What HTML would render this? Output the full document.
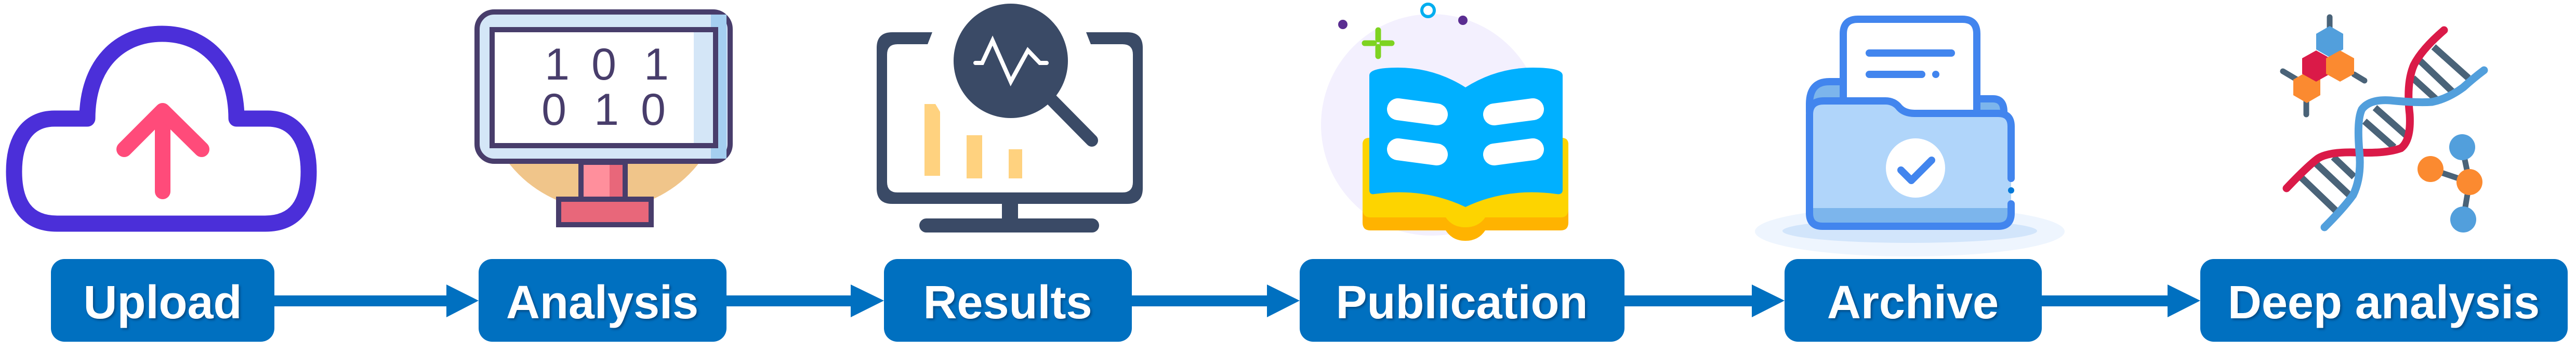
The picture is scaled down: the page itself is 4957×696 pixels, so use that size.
<!DOCTYPE html>
<html><head><meta charset="utf-8"><style>
html,body{margin:0;padding:0;background:#fff;}
svg{display:block;}
.lbl{font-family:"Liberation Sans",Arial,sans-serif;font-weight:bold;font-size:90px;fill:#fff;}
</style></head><body>
<svg width="4957" height="696" viewBox="0 0 4957 696" xmlns="http://www.w3.org/2000/svg">
<defs>
<filter id="ts" x="-5%" y="-5%" width="110%" height="120%"><feDropShadow dx="3" dy="3" stdDeviation="2" flood-color="#003060" flood-opacity="0.6"/></filter>
</defs>

<!-- Upload cloud -->
<path d="M110,430 H510 C570,430 594,390 594,330 C594,270 568,228 515,228 H455 C455,125 395,65 312,65 C229,65 168,125 168,228 H105 C52,228 27,270 27,330 C27,390 50,430 110,430 Z" fill="none" stroke="#4B2FD9" stroke-width="31" stroke-linejoin="round"/>
<g stroke="#FF4B7A" stroke-width="30" stroke-linecap="round" stroke-linejoin="round" fill="none">
<line x1="313" y1="215" x2="313" y2="368"/>
<polyline points="239,287 313,213 388,287"/>
</g>

<!-- Analysis monitor -->
<circle cx="1162" cy="171" r="232" fill="#F0C58A"/>
<rect x="913" y="0" width="500" height="315" fill="#fff"/>
<rect x="918" y="23" width="487" height="287" rx="33" fill="#D4E6F7" stroke="#483D6B" stroke-width="10"/>
<rect x="1368" y="28" width="30" height="277" fill="#A5CFF0"/>
<rect x="947" y="57" width="430" height="223" fill="#fff" stroke="#483D6B" stroke-width="10"/>
<rect x="1335" y="62" width="37" height="213" fill="#D4E6F7"/>
<g font-family="'Liberation Sans',Arial,sans-serif" font-size="86" fill="#483D6B" text-anchor="middle">
<text x="1072" y="153">1</text><text x="1162" y="153">0</text><text x="1263" y="153">1</text>
<text x="1066" y="240">0</text><text x="1167" y="240">1</text><text x="1257" y="240">0</text>
</g>
<rect x="1118" y="315" width="85" height="70" fill="#FF8F9C"/>
<rect x="1173" y="315" width="30" height="70" fill="#E8677A"/>
<rect x="1118" y="312" width="85" height="73" fill="none" stroke="#483D6B" stroke-width="10"/>
<rect x="1075" y="383" width="178" height="49" fill="#E8677A" stroke="#483D6B" stroke-width="10"/>

<!-- Results monitor -->
<g fill="#3A4A66">
<path d="M1717,62 H1794 L1785,85 H1727 Q1707,85 1707,105 V350 Q1707,370 1727,370 H2160 Q2180,370 2180,350 V105 Q2180,85 2160,85 H2099 L2090,62 H2169 Q2199,62 2199,92 V362 Q2199,392 2169,392 H1717 Q1687,392 1687,362 V92 Q1687,62 1717,62 Z"/>
<rect x="1928" y="390" width="31" height="32"/>
<rect x="1769" y="420" width="346" height="27" rx="13.5"/>
<circle cx="1945" cy="117" r="110"/>
</g>
<line x1="2025" y1="193" x2="2101" y2="270" stroke="#3A4A66" stroke-width="24" stroke-linecap="round"/>
<polyline points="1877,121 1890,121 1910,78 1945,157 1978,97 2001,121 2014,121" fill="none" stroke="#fff" stroke-width="8" stroke-linejoin="miter" stroke-linecap="round"/>
<path d="M1779,200 H1800 L1809,215 V338 H1779 Z" fill="#FFD27F"/>
<rect x="1860" y="260" width="30" height="83" fill="#FFD27F"/>
<rect x="1941" y="287" width="26" height="56" fill="#FFD27F"/>

<!-- Publication book -->
<circle cx="2755" cy="240" r="213" fill="#F3F0FE"/>
<circle cx="2584" cy="47" r="9" fill="#5A2D91"/>
<circle cx="2815" cy="39" r="9" fill="#5A2D91"/>
<circle cx="2748" cy="20" r="12" fill="none" stroke="#00AEEF" stroke-width="6"/>
<g stroke="#7ED321" stroke-width="11" stroke-linecap="round">
<line x1="2652" y1="58" x2="2652" y2="76"/><line x1="2652" y1="90" x2="2652" y2="108"/>
<line x1="2626" y1="83" x2="2644" y2="83"/><line x1="2660" y1="83" x2="2678" y2="83"/>
</g>
<path d="M2622,278 Q2622,265 2635,265 H3005 Q3018,265 3018,278 V428 Q3018,443 3003,443 H2858 Q2845,463 2820,463 Q2795,463 2782,443 H2637 Q2622,443 2622,428 Z" fill="#FFB300"/>
<path d="M2622,278 Q2622,265 2635,265 H3005 Q3018,265 3018,278 V402 Q3018,418 3003,418 H2858 Q2845,437 2820,437 Q2795,437 2782,418 H2637 Q2622,418 2622,402 Z" fill="#FDD400"/>
<path d="M2635,145 Q2635,130 2690,130 Q2760,130 2820,168 Q2880,130 2950,130 Q3007,130 3007,145 V365 Q3007,375 2995,373 Q2900,360 2820,398 Q2740,360 2645,373 Q2635,375 2635,365 Z" fill="#00B0FF"/>
<g stroke="#fff" stroke-width="42" stroke-linecap="round">
<line x1="2157" y1="0" x2="2157" y2="0"/>
<line x1="2690" y1="210" x2="2765" y2="220"/>
<line x1="2690" y1="287" x2="2765" y2="297"/>
<line x1="2875" y1="220" x2="2950" y2="210"/>
<line x1="2875" y1="297" x2="2950" y2="287"/>
</g>

<!-- Archive folder -->
<ellipse cx="3675" cy="445" rx="298" ry="48" fill="#EEF5FE"/>
<ellipse cx="3675" cy="444" rx="245" ry="23" fill="#D2E5FB"/>
<path d="M3482,200 Q3482,157 3520,157 H3547 V215 H3482 Z" fill="#7CB5EC" stroke="#4285EE" stroke-width="14" stroke-linejoin="round"/>
<path d="M3804,190 H3835 Q3856,190 3856,215 V230 H3804 Z" fill="#7CB5EC" stroke="#4285EE" stroke-width="14" stroke-linejoin="round"/>
<path d="M3547,225 V65 Q3547,37 3575,37 H3776 Q3804,37 3804,65 V225 Z" fill="#fff" stroke="#4285EE" stroke-width="14" stroke-linejoin="round"/>
<line x1="3597" y1="102" x2="3755" y2="102" stroke="#4285EE" stroke-width="14" stroke-linecap="round"/>
<line x1="3597" y1="143" x2="3698" y2="143" stroke="#4285EE" stroke-width="14" stroke-linecap="round"/>
<circle cx="3725" cy="143" r="7" fill="#4285EE"/>
<path d="M3482,220 Q3482,194 3510,194 H3628 Q3645,194 3655,207 Q3665,218 3685,218 H3845 Q3870,218 3870,243 V410 Q3870,435 3845,435 H3507 Q3482,435 3482,410 Z" fill="#B0D5FA"/>
<path d="M3482,400 H3870 V410 Q3870,435 3845,435 H3507 Q3482,435 3482,410 Z" fill="#7CB5EC"/>
<path d="M3870,343 V243 Q3870,218 3845,218 H3685 Q3665,218 3655,207 Q3645,194 3628,194 H3510 Q3482,194 3482,220 V410 Q3482,435 3507,435 H3845 Q3870,435 3870,410 V392" fill="none" stroke="#4285EE" stroke-width="14" stroke-linecap="round"/>
<circle cx="3870" cy="366" r="6" fill="#0078D7"/>
<circle cx="3686" cy="323" r="57" fill="#fff"/>
<polyline points="3658,327 3678,347 3717,308" fill="none" stroke="#4285EE" stroke-width="14" stroke-linecap="round" stroke-linejoin="round"/>

<!-- DNA -->
<g stroke="#4A6378" stroke-width="13" stroke-linecap="butt">
<line x1="4427" y1="340" x2="4497" y2="407"/>
<line x1="4452" y1="310" x2="4523" y2="377"/>
<line x1="4490" y1="302" x2="4530" y2="340"/>
<line x1="4550" y1="233" x2="4607" y2="283"/>
<line x1="4570" y1="207" x2="4630" y2="260"/>
<line x1="4643" y1="150" x2="4687" y2="190"/>
<line x1="4657" y1="117" x2="4720" y2="177"/>
<line x1="4683" y1="90" x2="4750" y2="150"/>
</g>
<path d="M4400,362 Q4440,320 4460,305 Q4480,292 4530,293 Q4590,296 4620,285 Q4640,270 4637,220 Q4630,160 4645,125 Q4660,95 4703,58" fill="none" stroke="#DA1A48" stroke-width="15" stroke-linecap="round"/>
<path d="M4473,437 Q4510,400 4528,375 Q4545,340 4540,290 Q4535,230 4545,210 Q4560,190 4600,193 Q4650,198 4680,196 Q4710,190 4740,168 Q4760,150 4780,135" fill="none" stroke="#529FDC" stroke-width="15" stroke-linecap="round"/>
<g stroke="#4A6378" stroke-width="11" stroke-linecap="round">
<line x1="4483" y1="33" x2="4483" y2="63"/>
<line x1="4393" y1="137" x2="4420" y2="153"/>
<line x1="4530" y1="143" x2="4550" y2="155"/>
<line x1="4438" y1="193" x2="4438" y2="220"/>
<line x1="4738" y1="283" x2="4752" y2="350"/>
<line x1="4677" y1="325" x2="4752" y2="350"/>
<line x1="4752" y1="350" x2="4740" y2="422"/>
</g>
<polygon points="4483,50 4509,65 4509,95 4483,110 4457,95 4457,65" fill="#529FDC"/>
<polygon points="4439,138 4465,153 4465,183 4439,198 4413,183 4413,153" fill="#FB8A30"/>
<polygon points="4457,97 4484,112 4484,142 4457,157 4430,142 4430,112" fill="#DA1A48"/>
<polygon points="4503,97 4530,112 4530,142 4503,157 4476,142 4476,112" fill="#FB8A30"/>
<circle cx="4738" cy="283" r="25" fill="#529FDC"/>
<circle cx="4740" cy="422" r="25" fill="#529FDC"/>
<circle cx="4677" cy="325" r="25" fill="#FB8A30"/>
<circle cx="4752" cy="350" r="25" fill="#FB8A30"/>

<!-- Arrows -->
<g fill="#0070C0">
<rect x="528" y="568" width="340" height="21"/><polygon points="859,547 921,578 859,610"/>
<rect x="1398" y="568" width="250" height="21"/><polygon points="1637,547 1701,578 1637,610"/>
<rect x="2178" y="568" width="270" height="21"/><polygon points="2438,547 2501,578 2438,610"/>
<rect x="3126" y="568" width="255" height="21"/><polygon points="3371,547 3434,578 3371,610"/>
<rect x="3929" y="568" width="252" height="21"/><polygon points="4171,547 4234,578 4171,610"/>
</g>

<!-- Boxes -->
<g fill="#0070C0">
<rect x="98" y="498" width="430" height="159" rx="26"/>
<rect x="921" y="498" width="477" height="159" rx="26"/>
<rect x="1701" y="498" width="477" height="159" rx="26"/>
<rect x="2501" y="498" width="625" height="159" rx="26"/>
<rect x="3434" y="498" width="495" height="159" rx="26"/>
<rect x="4234" y="498" width="707" height="159" rx="26"/>
</g>
<g class="lbl" text-anchor="middle" filter="url(#ts)">
<text x="313" y="612">Upload</text>
<text x="1159" y="612">Analysis</text>
<text x="1939" y="612">Results</text>
<text x="2813" y="612">Publication</text>
<text x="3681" y="612">Archive</text>
<text x="4587" y="612">Deep analysis</text>
</g>
</svg>
</body></html>
